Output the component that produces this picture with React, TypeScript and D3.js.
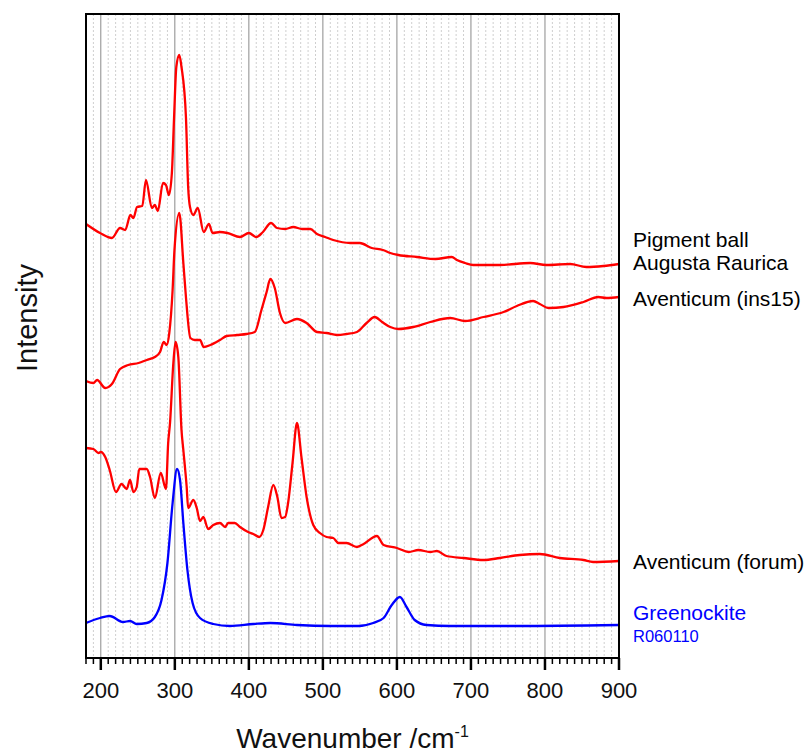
import React from "react";
import * as d3 from "d3";

// Raman spectra: [wavenumber (cm-1), intensity (a.u., stacked)]
const pigmentBall: [number, number][] = [
  [180, 434], [199, 425], [215, 420], [226, 430], [233, 428], [240, 443], [244, 440],
  [249, 451], [256, 452], [261, 478], [269, 450], [273, 453], [277, 447], [284, 475],
  [288, 473], [292, 463], [296, 485], [299, 541], [302, 591], [306, 603], [309, 591],
  [315, 541], [318, 471], [320.5, 451], [325, 443], [331, 450], [339, 426], [346, 434],
  [351, 425], [361, 426], [371, 425], [388, 421], [400, 425], [410, 421], [419, 426],
  [430, 435], [438, 430], [449, 429], [460, 431], [472, 429], [483, 429], [492, 424],
  [503, 421], [514, 418], [537, 415], [550, 415], [566, 410], [581, 408], [591, 405],
  [602, 403], [627, 401], [652, 399], [674, 401], [681, 398], [692, 395], [703, 393],
  [739, 393], [780, 395], [802, 393], [834, 394], [856, 391], [879, 392], [900, 394],
];

const aventicumIns15: [number, number][] = [
  [180, 277], [190, 275], [195, 278], [206, 270], [215, 274], [226, 289], [237, 293],
  [251, 295], [262, 298], [273, 301], [280, 306], [285, 316], [289, 313], [292.5, 325],
  [297, 368], [299.5, 408], [306, 445], [311.5, 395], [315, 361], [321, 320], [327, 318],
  [334, 318], [339, 311], [348, 313], [361, 318], [370, 322], [384, 323], [397, 324],
  [408, 326], [417, 348], [424, 366], [429, 379], [435, 370], [442, 345], [449, 335],
  [465, 339], [478, 335], [492, 326], [505, 325], [519, 323], [532, 324], [546, 326],
  [559, 335], [570, 341], [580, 336], [591, 331], [602, 329], [622, 331], [645, 336],
  [672, 340], [692, 337], [717, 341], [744, 346], [762, 352], [784, 357], [793, 354],
  [805, 350], [825, 351], [852, 356], [872, 361], [883, 360], [900, 361],
];

const aventicumForum: [number, number][] = [
  [180, 210], [190, 209], [197, 205], [200, 206], [206, 201], [212, 188], [220.5, 166],
  [228, 174], [235, 169], [239.5, 178], [244, 166], [248.5, 171], [252, 189], [262, 189],
  [266.5, 181], [273, 160], [281, 185], [288, 169], [291, 215], [293.5, 235], [298, 295],
  [301, 316], [304.7, 301], [309, 228], [311.5, 208], [316, 171], [318, 150], [325, 158],
  [329.6, 150], [334, 137], [338.5, 141], [345, 129], [352, 133], [361, 135], [368, 131],
  [372, 135], [381, 135], [388, 131], [399, 126], [406, 124], [414, 121], [419.5, 128],
  [426, 151], [433, 173], [438.5, 161], [444, 140], [449, 141], [453, 155], [459, 195],
  [465, 235], [471, 201], [478, 161], [487, 133], [496, 125], [505, 121], [514, 120],
  [521, 115], [532, 115], [546, 111], [555, 114], [573, 122], [582, 113], [600, 110],
  [616, 106], [629, 108], [645, 106], [654, 107], [667, 102], [690, 100], [717, 98],
  [739, 100], [766, 103], [793, 104], [820, 100], [852, 98], [865, 96], [900, 97],
];

const greenockite: [number, number][] = [
  [180, 35], [199, 40], [212, 42], [230, 36], [239.5, 37], [248.5, 34], [262, 35],
  [273, 41], [282, 58], [290, 95], [297, 155], [303, 189], [307, 178], [311.5, 135],
  [317, 88], [324, 55], [334, 40], [352, 34], [374.5, 32], [406, 34], [429, 35],
  [465, 33], [510, 32], [548, 32], [568, 35], [582, 40], [593, 53], [604, 61],
  [613, 51], [624, 38], [640, 33], [672, 32], [762, 32], [900, 33],
];

const xDomain: [number, number] = [180, 900];
const yDomain: [number, number] = [0, 644];
const majorTicks = [200, 300, 400, 500, 600, 700, 800, 900];
const minorTicks = d3.range(180, 901, 10);

const RED = "#ff0000";
const BLUE = "#0000ff";
const FONT = "Arial, 'Liberation Sans', Helvetica, sans-serif";

// each series: data, colour, text lines with vertical offset from the end of the trace
const series = [
  { id: "pig", data: pigmentBall, color: RED, labels: [
    { text: "Pigment ball", dy: -17, size: 21, color: "#000" },
    { text: "Augusta Raurica", dy: 6, size: 21, color: "#000" },
  ] },
  { id: "ins15", data: aventicumIns15, color: RED, labels: [
    { text: "Aventicum (ins15)", dy: 9, size: 21, color: "#000" },
  ] },
  { id: "forum", data: aventicumForum, color: RED, labels: [
    { text: "Aventicum (forum)", dy: 8, size: 21, color: "#000" },
  ] },
  { id: "green", data: greenockite, color: BLUE, labels: [
    { text: "Greenockite", dy: -5, size: 21, color: BLUE },
    { text: "R060110", dy: 17, size: 16.5, color: BLUE },
  ] },
];

export default function App() {
  const W = 809;
  const H = 754;
  const left = 86, right = 619, top = 14, bottom = 658;

  const x = d3.scaleLinear().domain(xDomain).range([left, right]);
  const y = d3.scaleLinear().domain(yDomain).range([bottom, top]);

  const line = d3
    .line<[number, number]>()
    .x((d) => x(d[0]))
    .y((d) => y(d[1]))
    .curve(d3.curveMonotoneX);

  const minorGrid = minorTicks.filter((t) => t % 100 !== 0 && t > xDomain[0] && t < xDomain[1]);

  return (
    <svg
      width={W}
      height={H}
      style={{ position: "absolute", left: 0, top: 0, background: "#fff" }}
      fontFamily={FONT}
    >
      <defs>
        <clipPath id="plot-area">
          <rect x={left} y={top} width={right - left} height={bottom - top} />
        </clipPath>
      </defs>

      {/* minor dotted grid */}
      {minorGrid.map((t) => (
        <line key={"mg" + t} x1={x(t)} x2={x(t)} y1={top} y2={bottom}
          stroke="#cfcfcf" strokeWidth={1} strokeDasharray="2,2" />
      ))}
      {/* major grid */}
      {majorTicks.filter((t) => t < xDomain[1]).map((t) => (
        <line key={"MG" + t} x1={x(t)} x2={x(t)} y1={top} y2={bottom}
          stroke="#8a8a8a" strokeWidth={1} />
      ))}

      {/* spectra */}
      <g clipPath="url(#plot-area)">
        {series.map((s) => (
          <path key={s.id} d={line(s.data) || ""} fill="none" stroke={s.color}
            strokeWidth={2.3} strokeLinejoin="round" />
        ))}
      </g>

      {/* frame */}
      <rect x={left} y={top} width={right - left} height={bottom - top}
        fill="none" stroke="#000" strokeWidth={2} />

      {/* x ticks */}
      {minorTicks.filter((t) => t % 100 !== 0).map((t) => (
        <line key={"mt" + t} x1={x(t)} x2={x(t)} y1={bottom} y2={bottom + 6}
          stroke="#000" strokeWidth={1.5} />
      ))}
      {majorTicks.map((t) => (
        <line key={"Mt" + t} x1={x(t)} x2={x(t)} y1={bottom} y2={bottom + 12}
          stroke="#000" strokeWidth={2.5} />
      ))}
      {majorTicks.map((t) => (
        <text key={"tl" + t} x={x(t)} y={698} textAnchor="middle" fontSize={22} fill="#111">
          {t}
        </text>
      ))}

      {/* axis titles */}
      <text x={(left + right) / 2} y={748} textAnchor="middle" fontSize={28} fill="#111">
        Wavenumber /cm
        <tspan dy={-11} fontSize={16}>-1</tspan>
      </text>
      <text transform={`translate(37, 318) rotate(-90)`} textAnchor="middle" fontSize={29} fill="#111">
        Intensity
      </text>

      {/* series labels */}
      {series.map((s) => {
        const last = s.data[s.data.length - 1];
        const yEnd = y(last[1]);
        return s.labels.map((lab, i) => (
          <text key={s.id + i} x={633} y={yEnd + lab.dy} fontSize={lab.size} fill={lab.color}>
            {lab.text}
          </text>
        ));
      })}
    </svg>
  );
}
